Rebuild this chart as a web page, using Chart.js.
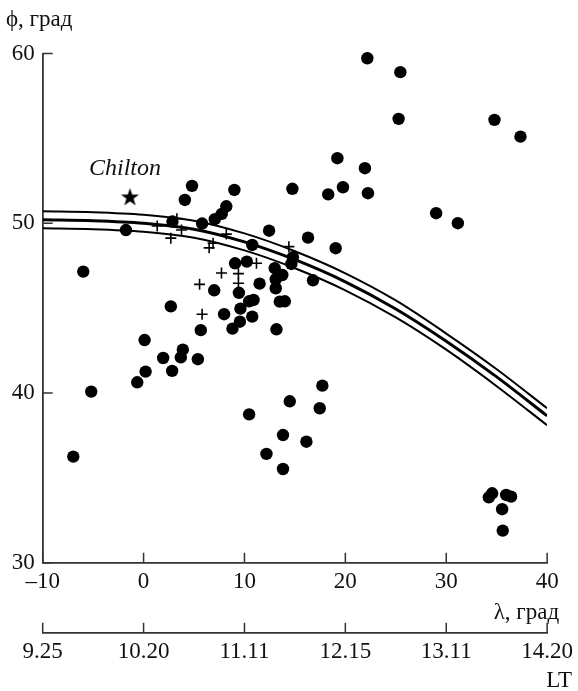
<!DOCTYPE html>
<html>
<head>
<meta charset="utf-8">
<script src="https://cdn.jsdelivr.net/npm/chart.js@4.4.0/dist/chart.umd.min.js"></script>
<style>
  html, body { margin: 0; padding: 0; background: #fff; }
  #wrap { width: 578px; height: 691px; }
</style>
</head>
<body>
<div id="wrap"><canvas id="stationChart"></canvas></div>
<script>
// events: longitude (λ) and latitude (ϕ), degrees
const dotLon = [-6.97, -5.19, -5.98, -1.75, -0.63, 0.2, 0.1, 1.94, 2.83, 2.7,
  2.86, 3.69, 3.89, 4.09, 4.8, 5.38, 5.67, 5.8, 7.0, 7.06,
  7.75, 8.2, 7.98, 8.81, 9.0, 9.07, 9.45, 9.6, 9.55, 10.23,
  10.46, 10.9, 10.77, 10.77, 10.46, 11.5, 12.44, 12.18, 13.0, 13.1,
  13.1, 13.17, 13.5, 14.0, 13.75, 13.82, 13.82, 14.49, 14.8, 14.65,
  14.75, 16.14, 16.3, 16.79, 17.46, 17.72, 18.3, 19.21, 19.76, 19.04,
  21.94, 22.24, 22.18, 25.45, 25.28, 29.0, 31.15, 34.78, 37.36, 34.22,
  34.55, 35.94, 36.43, 35.54, 35.6];
const dotLat = [36.25, 40.08, 47.15, 49.6, 40.63, 41.26, 43.12, 42.06, 41.3, 45.1,
  50.1, 42.1, 42.55, 51.37, 52.2, 41.99, 43.7, 49.98, 46.05, 50.24,
  50.55, 51.0, 44.64, 43.79, 51.96, 47.64, 45.9, 44.97, 44.2, 47.74,
  45.4, 45.48, 48.72, 44.5, 38.74, 46.44, 49.56, 36.41, 47.35, 46.17,
  46.7, 43.75, 45.38, 45.4, 46.95, 37.52, 35.52, 39.51, 48.0, 47.6,
  52.03, 37.13, 49.15, 46.64, 39.1, 40.43, 51.7, 53.83, 52.12, 48.53,
  53.24, 51.77, 59.72, 58.9, 56.15, 50.59, 50.0, 56.09, 55.1, 33.85,
  34.09, 33.99, 33.89, 33.15, 31.89];

const crossLon = [1.35, 3.3, 2.7, 3.76, 6.5, 6.89, 8.2, 11.19, 7.72, 9.4, 9.4, 5.55, 5.8, 14.4];
const crossLat = [49.84, 50.27, 49.12, 49.6, 48.55, 48.82, 49.36, 47.64, 47.07, 47.03, 46.46, 46.4, 44.64, 48.62];

const chiltonLon = [-1.35];
const chiltonLat = [51.57];

// three boundary curves
const curveLon = [-10, -5, 0, 5, 10, 15, 20, 25, 30, 35, 40];
const curveUpper = [50.7, 50.65, 50.5, 50.15, 49.4, 48.35, 47.05, 45.45, 43.5, 41.4, 39.1];
const curveMid = [50.2, 50.15, 50.0, 49.65, 48.9, 47.85, 46.55, 44.95, 43.05, 40.95, 38.65];
const curveLower = [49.7, 49.65, 49.5, 49.15, 48.4, 47.35, 46.05, 44.45, 42.55, 40.4, 38.1];

const ltLabels = ['9.25', '10.20', '11.11', '12.15', '13.11', '14.20'];

const SERIF = '"Liberation Serif", "DejaVu Serif", serif';
const INK = '#111';
const AXIS = '#333';
const FS = 23;

function toPoints(xs, ys) {
  return xs.map((v, i) => ({ x: v, y: ys[i] }));
}

function makeStar(r) {
  const c = document.createElement('canvas');
  const s = Math.ceil(r * 2 + 2);
  c.width = s; c.height = s;
  const g = c.getContext('2d');
  g.translate(s / 2, s / 2 + r * 0.1);
  g.beginPath();
  for (let k = 0; k < 10; k++) {
    const rad = k % 2 ? r * 0.4 : r;
    const a = -Math.PI / 2 + k * Math.PI / 5;
    g.lineTo(rad * Math.cos(a), rad * Math.sin(a));
  }
  g.closePath();
  g.fillStyle = '#000';
  g.fill();
  return c;
}

// inward tick marks + axis titles + station name
const axisDecor = {
  id: 'axisDecor',
  afterDraw(chart) {
    const ctx = chart.ctx;
    const { x, x2, y } = chart.scales;
    ctx.save();
    ctx.strokeStyle = AXIS;
    ctx.lineWidth = 1.5;
    ctx.beginPath();
    x.ticks.forEach((t, i) => {
      const px = x.getPixelForTick(i);
      ctx.moveTo(px, x.top); ctx.lineTo(px, x.top - 10);
    });
    x2.ticks.forEach((t, i) => {
      const px = x2.getPixelForTick(i);
      ctx.moveTo(px, x2.top); ctx.lineTo(px, x2.top - 10);
    });
    y.ticks.forEach((t, i) => {
      const py = y.getPixelForTick(i);
      ctx.moveTo(y.right, py); ctx.lineTo(y.right + 10, py);
    });
    ctx.stroke();

    ctx.fillStyle = INK;
    ctx.font = FS + 'px ' + SERIF;
    ctx.textBaseline = 'middle';
    ctx.textAlign = 'left';
    ctx.fillText('ϕ, град', 6, 20);
    ctx.textAlign = 'right';
    ctx.fillText('λ, град', x.right + 12, x.top + 50);
    ctx.fillText('LT', x2.right + 25, x2.top + 48);

    const sx = x.getPixelForValue(chiltonLon[0]);
    const sy = y.getPixelForValue(chiltonLat[0]);
    ctx.font = 'italic 24px ' + SERIF;
    ctx.textAlign = 'center';
    ctx.fillText('Chilton', sx - 5, sy - 28);
    ctx.restore();
  }
};

const tickFont = { family: SERIF, size: FS };
const curveStyle = { showLine: true, pointRadius: 0, borderColor: '#000', cubicInterpolationMode: 'monotone' };

new Chart(document.getElementById('stationChart'), {
  type: 'scatter',
  data: {
    datasets: [
      { label: 'events', data: toPoints(dotLon, dotLat), pointStyle: 'circle', clip: false,
        pointRadius: 6.2, backgroundColor: '#000', borderColor: '#000', borderWidth: 0 },
      { label: 'cross', data: toPoints(crossLon, crossLat), pointStyle: 'cross',
        pointRadius: 5.5, borderColor: '#000', borderWidth: 1.6 },
      { label: 'Chilton', data: toPoints(chiltonLon, chiltonLat), pointStyle: makeStar(9.5),
        pointRadius: 10 },
      { label: 'upper', data: toPoints(curveLon, curveUpper), borderWidth: 2, ...curveStyle },
      { label: 'mid', data: toPoints(curveLon, curveMid), borderWidth: 3, ...curveStyle },
      { label: 'lower', data: toPoints(curveLon, curveLower), borderWidth: 2, ...curveStyle }
    ]
  },
  options: {
    responsive: true,
    maintainAspectRatio: false,
    animation: false,
    layout: { padding: { top: 53.5, right: 30.3, left: 0, bottom: 0 } },
    plugins: { legend: { display: false }, tooltip: { enabled: false } },
    scales: {
      x: {
        type: 'linear', position: 'bottom', min: -10, max: 40,
        ticks: { stepSize: 10, padding: 5, color: INK, font: tickFont,
          callback: v => v < 0 ? '–' + Math.abs(v) : String(v) },
        grid: { drawOnChartArea: false, drawTicks: false },
        border: { color: AXIS, width: 1.8 },
        afterFit: s => { s.height = 70; }
      },
      x2: {
        type: 'linear', position: 'bottom', min: -10, max: 40,
        ticks: { stepSize: 10, padding: 5, color: INK, font: tickFont,
          callback: (v, i) => ltLabels[i] },
        grid: { drawOnChartArea: false, drawTicks: false },
        border: { color: AXIS, width: 1.8 },
        afterFit: s => { s.height = 58.3; }
      },
      y: {
        type: 'linear', min: 30, max: 60,
        ticks: { stepSize: 10, padding: 8, color: INK, font: tickFont },
        grid: { drawOnChartArea: false, drawTicks: false },
        border: { color: AXIS, width: 1.8 },
        afterFit: s => { s.width = 42.7; }
      }
    }
  },
  plugins: [axisDecor]
});
</script>
</body>
</html>
